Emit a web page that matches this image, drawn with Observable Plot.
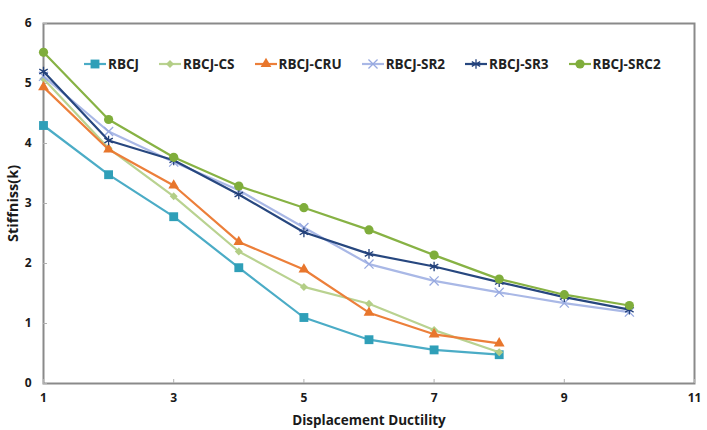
<!DOCTYPE html>
<html>
<head>
<meta charset="utf-8">
<script src="https://cdn.jsdelivr.net/npm/d3@7"></script>
<script src="https://cdn.jsdelivr.net/npm/@observablehq/plot@0.6"></script>
<style>
  html, body { margin: 0; padding: 0; background: #fff; }
  #chart { position: relative; width: 707px; height: 430px; font-family: 'Open Sans', sans-serif; }
  #legend { position: absolute; top: 55px; left: 83px; display: flex; align-items: center; font-weight: 700; font-size: 13.5px; color: #222; }
  .item { display: flex; align-items: center; margin-right: 19px; }
  .item svg { display: block; margin-right: 1px; }
</style>
</head>
<body>
<div id="chart"><div id="legend"></div></div>
<script>
// Displacement ductility levels (x) and stiffness per specimen
const ductility = [1, 2, 3, 4, 5, 6, 7, 8, 9, 10];
const xTicks = [1, 3, 5, 7, 9, 11];
const yTicks = [0, 1, 2, 3, 4, 5, 6];

const seriesNames = ["RBCJ", "RBCJ-CS", "RBCJ-CRU", "RBCJ-SR2", "RBCJ-SR3", "RBCJ-SRC2"];
const rbcj    = [4.30, 3.48, 2.78, 1.93, 1.10, 0.73, 0.56, 0.48];
const rbcjCS  = [5.08, 3.92, 3.12, 2.20, 1.61, 1.33, 0.89, 0.52];
const rbcjCRU = [4.94, 3.90, 3.30, 2.36, 1.90, 1.18, 0.82, 0.67];
const rbcjSR2 = [5.12, 4.20, 3.69, 3.22, 2.60, 1.99, 1.71, 1.52, 1.34, 1.19];
const rbcjSR3 = [5.20, 4.05, 3.72, 3.15, 2.52, 2.16, 1.95, 1.69, 1.44, 1.23];
const rbcjSRC2 = [5.52, 4.40, 3.77, 3.29, 2.93, 2.56, 2.14, 1.74, 1.48, 1.30];

const seriesValues = [rbcj, rbcjCS, rbcjCRU, rbcjSR2, rbcjSR3, rbcjSRC2];
const lineColors   = ["#4BACC6", "#B9D290", "#EC7F3A", "#A9B8E6", "#27477F", "#87B244"];
const markerColors = ["#2F9FB8", "#B3CE86", "#E8762C", "#97A9E0", "#22407A", "#7FAD3B"];
const symbols      = ["square", "diamond2", "triangle", "times", "asterisk", "circle"];
const sizes        = [5, 3.6, 4, 4.2, 4.6, 4.6];
const filled       = [true, true, true, false, false, true];

const font = "'Open Sans', sans-serif";

const marks = [
  Plot.frame({stroke: "#8a8a8a", strokeWidth: 2}),
  Plot.axisX({ticks: xTicks, tickSize: -4, tickPadding: 14, stroke: "#b0b0b0", tickFormat: d => d, label: null, fontSize: 12, fontWeight: 700}),
  Plot.axisY({ticks: yTicks, tickSize: -4, tickPadding: 16, stroke: "#b0b0b0", tickFormat: d => d, label: null, fontSize: 12, fontWeight: 700}),
  Plot.axisX({ticks: [], label: "Displacement Ductility", labelAnchor: "center", labelArrow: "none", labelOffset: 41, fontSize: 13.5, fontWeight: 700}),
  Plot.axisY({ticks: [], label: "Stiffniss(k)", labelAnchor: "center", labelArrow: "none", labelOffset: 36, fontSize: 14.5, fontWeight: 700})
];

seriesValues.forEach((vals, i) => {
  const rows = vals.map((v, j) => ({x: ductility[j], y: v}));
  marks.push(Plot.line(rows, {x: "x", y: "y", stroke: lineColors[i], strokeWidth: 2.2}));
  marks.push(Plot.dot(rows, filled[i]
    ? {x: "x", y: "y", symbol: symbols[i], r: sizes[i], fill: markerColors[i], stroke: "none"}
    : {x: "x", y: "y", symbol: symbols[i], r: sizes[i], stroke: markerColors[i], strokeWidth: 1.3, fill: "none"}));
});

const chart = Plot.plot({
  width: 707,
  height: 430,
  marginLeft: 43,
  marginRight: 13,
  marginTop: 23,
  marginBottom: 47,
  style: {fontFamily: font, color: "#1a1a1a", background: "#fff"},
  x: {domain: [1, 11]},
  y: {domain: [0, 6]},
  marks
});
const holder = document.getElementById("chart");
holder.insertBefore(chart, holder.firstChild);

// Legend row inside the plot area
const symbolTypes = {square: d3.symbolSquare, diamond2: d3.symbolDiamond2, triangle: d3.symbolTriangle,
  times: d3.symbolTimes, asterisk: d3.symbolAsterisk, circle: d3.symbolCircle};
const legend = d3.select("#legend");
seriesNames.forEach((name, i) => {
  const item = legend.append("div").attr("class", "item");
  const svg = item.append("svg").attr("width", 24).attr("height", 14);
  svg.append("line").attr("x1", 1).attr("x2", 23).attr("y1", 7).attr("y2", 7)
    .attr("stroke", lineColors[i]).attr("stroke-width", 2.2);
  const path = d3.symbol(symbolTypes[symbols[i]], Math.PI * sizes[i] * sizes[i])();
  const p = svg.append("path").attr("d", path).attr("transform", "translate(12,7)");
  if (filled[i]) p.attr("fill", markerColors[i]);
  else p.attr("fill", "none").attr("stroke", markerColors[i]).attr("stroke-width", 1.3);
  item.append("span").text(name);
});
</script>
</body>
</html>
